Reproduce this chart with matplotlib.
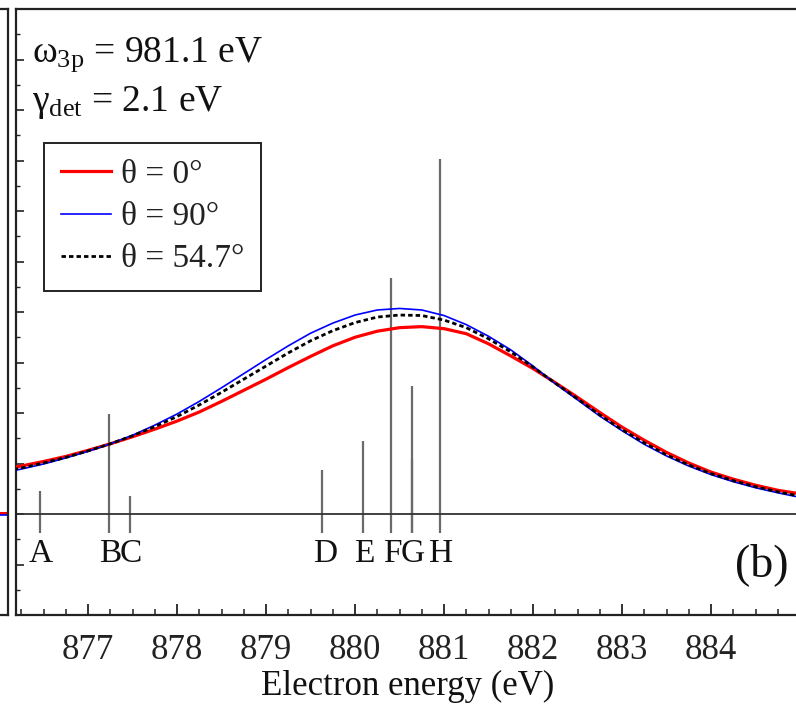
import matplotlib
matplotlib.use("Agg")
import matplotlib.pyplot as plt
from matplotlib.ticker import MultipleLocator, FixedLocator, NullFormatter

plt.rcParams['font.family'] = ['Liberation Serif', 'DejaVu Serif']
plt.rcParams['mathtext.fontset'] = 'custom'
plt.rcParams['mathtext.rm'] = 'Liberation Serif'
plt.rcParams['mathtext.it'] = 'Liberation Serif:italic'

# Electron energy grid (eV) for the broadened spectra
energy = [876.00, 876.25, 876.50, 876.75, 877.00, 877.25, 877.50, 877.75,
          878.00, 878.25, 878.50, 878.75, 879.00, 879.25, 879.50, 879.75,
          880.00, 880.25, 880.50, 880.75, 881.00, 881.25, 881.50, 881.75,
          882.00, 882.25, 882.50, 882.75, 883.00, 883.25, 883.50, 883.75,
          884.00, 884.25, 884.50, 884.75, 885.00, 885.25]

theta_0 = [0.88, 0.95, 1.04, 1.14, 1.26, 1.39, 1.53, 1.68,
           1.84, 2.02, 2.23, 2.45, 2.67, 2.90, 3.12, 3.33,
           3.50, 3.62, 3.69, 3.71, 3.67, 3.57, 3.37, 3.13,
           2.88, 2.60, 2.31, 2.01, 1.72, 1.46, 1.22, 1.01,
           0.83, 0.69, 0.57, 0.47, 0.40, 0.33]

theta_90 = [0.80, 0.89, 0.99, 1.11, 1.24, 1.39, 1.56, 1.76,
            1.98, 2.23, 2.50, 2.78, 3.06, 3.33, 3.58, 3.78,
            3.94, 4.04, 4.07, 4.04, 3.93, 3.75, 3.52, 3.25,
            2.93, 2.58, 2.26, 1.94, 1.65, 1.38, 1.15, 0.95,
            0.78, 0.64, 0.52, 0.42, 0.33, 0.27]

theta_magic = [0.83, 0.91, 1.01, 1.12, 1.25, 1.39, 1.55, 1.73,
               1.93, 2.16, 2.41, 2.67, 2.93, 3.19, 3.43, 3.63,
               3.79, 3.90, 3.94, 3.93, 3.84, 3.69, 3.47, 3.21,
               2.91, 2.59, 2.28, 1.96, 1.67, 1.41, 1.17, 0.97,
               0.80, 0.66, 0.54, 0.44, 0.35, 0.29]

# Individual transitions (stick spectrum)
stick_energy = [876.46, 877.24, 877.47, 879.63, 880.09, 880.40, 880.64, 880.645, 880.95]
stick_height = [0.46, 1.98, 0.36, 0.87, 1.44, 4.68, 2.53, 1.09, 7.02]
stick_bottom = -0.38

label_names = ['A', 'B', 'C', 'D', 'E', 'F', 'G', 'H']
label_energy = [876.47, 877.25, 877.48, 879.66, 880.10, 880.42, 880.65, 880.97]

x_ticks = [877, 878, 879, 880, 881, 882, 883, 884]

W, H = 796, 716
fig = plt.figure(figsize=(W / 100, H / 100), dpi=100)

# Neighbouring panel, mostly outside the canvas
left_px, top_px, bottom_px = 16, 9, 615
ax0 = fig.add_axes([-400 / W, (H - bottom_px) / H, 408 / W, (bottom_px - top_px) / H])
ax0.set_xlim(0, 1)
ax0.set_ylim(-2, 10)
ax0.plot([0.9, 1.0], [0.02, 0.02], color='red', lw=2.2)
ax0.plot([0.9, 1.0], [-0.02, -0.02], color='blue', lw=1.2)
ax0.set_xticks([])
ax0.set_yticks([])
for s in ax0.spines.values():
    s.set_linewidth(1.6)
    s.set_color('#222')

ax = fig.add_axes([left_px / W, (H - bottom_px) / H, (800 - left_px) / W,
                   (bottom_px - top_px) / H])
ax.set_xlim(876.19, 885.0)
ax.set_ylim(-2, 10)

# Stick spectrum
ax.vlines(stick_energy, stick_bottom, stick_height, color='#6a6a6a', lw=1.6, zorder=2)
ax.axhline(0, color='#333', lw=1.3, zorder=2)

ax.plot(energy, theta_0, color='red', lw=2.3, label='θ = 0°', zorder=3)
ax.plot(energy, theta_90, color='blue', lw=1.2, label='θ = 90°', zorder=4)
ax.plot(energy, theta_magic, color='black', lw=2.0, ls=(0, (1.6, 1.1)),
        label='θ = 54.7°', zorder=5)

for name, e in zip(label_names, label_energy):
    ax.text(e, -0.79, name, ha='center', va='center', fontsize=24, color='#111')

ax.text(0.985, 0.083, '(b)', transform=ax.transAxes, ha='right', va='center',
        fontsize=33, color='#111')

ax.text(0.02, 0.913, r'$\mathrm{ω}_{\mathrm{3p}}$ = 981.1 eV', transform=ax.transAxes,
        ha='left', va='baseline', fontsize=27, color='#111')
ax.text(0.02, 0.831, r'$\mathrm{γ}_{\mathrm{det}}$ = 2.1 eV', transform=ax.transAxes,
        ha='left', va='baseline', fontsize=27, color='#111')

leg = ax.legend(loc='upper left', bbox_to_anchor=(0.036, 0.779), fontsize=24,
                frameon=True, fancybox=False, framealpha=1, edgecolor='#222',
                handlelength=1.5, handletextpad=0.3, labelspacing=0.35,
                borderpad=0.5, borderaxespad=0)
leg.get_frame().set_linewidth(1.4)
for t in leg.get_texts():
    t.set_color('#222')

ax.xaxis.set_major_locator(FixedLocator(x_ticks))
ax.xaxis.set_minor_locator(MultipleLocator(0.25))
ax.yaxis.set_major_locator(MultipleLocator(1))
ax.yaxis.set_minor_locator(MultipleLocator(0.5))
ax.yaxis.set_major_formatter(NullFormatter())
ax.tick_params(axis='x', which='major', direction='in', length=8, width=1.3,
               labelsize=25, pad=14, colors='#222')
ax.tick_params(axis='x', which='minor', direction='in', length=4, width=1.1, colors='#222')
ax.tick_params(axis='y', which='major', direction='in', length=5.5, width=1.2, colors='#222')
ax.tick_params(axis='y', which='minor', direction='in', length=3, width=1.0, colors='#222')
ax.spines['right'].set_visible(False)
for s in ('left', 'top', 'bottom'):
    ax.spines[s].set_linewidth(1.6)
    ax.spines[s].set_color('#222')

ax.set_xlabel('Electron energy (eV)', fontsize=25, labelpad=2, color='#111')

fig.savefig('out.png', dpi=100)
